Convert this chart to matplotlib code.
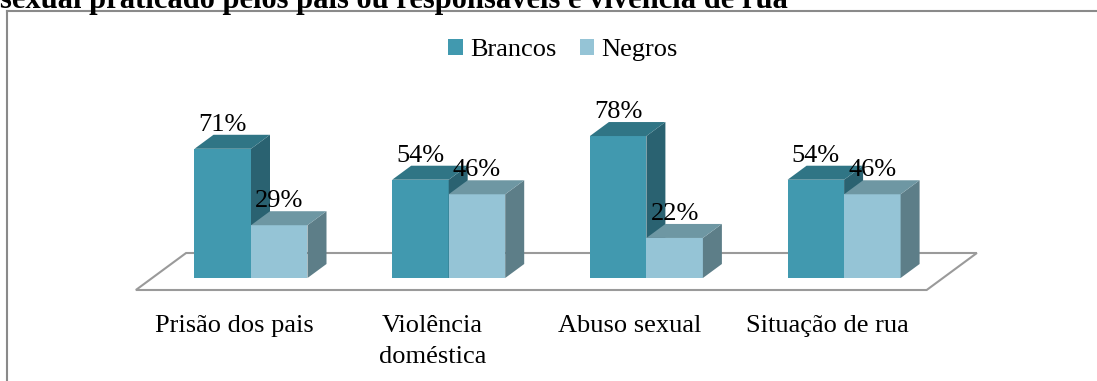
import matplotlib.pyplot as plt
from matplotlib.patches import Polygon, Patch
from matplotlib.lines import Line2D

categorias = ['Prisão dos pais', 'Violência\ndoméstica', 'Abuso sexual', 'Situação de rua']
series = ['Brancos', 'Negros']
brancos = [71, 54, 78, 54]
negros = [29, 46, 22, 46]
titulo = 'sexual praticado pelos pais ou responsáveis e vivência de rua'

# front, side, top colours per series
cores = {
    'Brancos': ('#4199AF', '#2A6271', '#307585'),
    'Negros': ('#95C4D6', '#5D7E88', '#6E97A3'),
}

plt.rcParams['font.family'] = ['Liberation Serif', 'DejaVu Serif']
fs = 19

W, H = 1097, 381
fig = plt.figure(figsize=(W / 100, H / 100), dpi=100)
ax = fig.add_axes([0, 0, 1, 1])

# pixel scale of the fake 3d projection
pitch = 197.7   # px per category
ppu = 1.82      # px per percent
x0 = 251
base = 278
ax.set_xlim(-x0 / pitch, (W - x0) / pitch)
ax.set_ylim(-(H - base) / ppu, base / ppu)
ax.axis('off')

slope = 1.357
w = 56.5 / pitch


def shift(d):
    return d * slope / pitch, d / ppu


# floor
fx0, fx1 = -0.5, len(categorias) - 0.5
dxf, dyf = shift(-12)
dxb, dyb = shift(25)
ax.add_patch(Polygon([(fx0 + dxf, dyf), (fx1 + dxf, dyf), (fx1 + dxb, dyb), (fx0 + dxb, dyb)],
                     closed=True, fc='white', ec='#9a9a9a', lw=1.5))


def bar3d(left, value, front, side, top):
    dx, dy = shift(14)
    right = left + w
    ax.add_patch(Polygon([(left, 0), (right, 0), (right, value), (left, value)],
                         closed=True, fc=front, ec='none'))
    ax.add_patch(Polygon([(right, 0), (right + dx, dy), (right + dx, value + dy), (right, value)],
                         closed=True, fc=side, ec='none'))
    ax.add_patch(Polygon([(left, value), (right, value), (right + dx, value + dy), (left + dx, value + dy)],
                         closed=True, fc=top, ec='none'))
    ax.text(left + w / 2, value + dy + 2.2, f'{value}%', ha='center', va='baseline', fontsize=fs)


for i, cat in enumerate(categorias):
    bar3d(i - w, brancos[i], *cores['Brancos'])
    bar3d(i, negros[i], *cores['Negros'])
    cx = i + shift(-12)[0]
    for k, linha in enumerate(cat.split('\n')):
        ax.text(cx, (base - 332 - 31 * k) / ppu, linha, ha='center', va='baseline', fontsize=fs)

handles = [Patch(fc=cores[s][0], ec='none') for s in series]
ax.legend(handles, series, loc='center', bbox_to_anchor=(563 / W, 1 - 50 / H),
          bbox_transform=fig.transFigure, ncol=2, frameon=False, fontsize=fs,
          handlelength=0.55, handleheight=0.55, handletextpad=0.27,
          columnspacing=0.9, borderpad=0, borderaxespad=0)

# chart frame (cut at right and bottom)
fig.add_artist(Line2D([7 / W, 7 / W], [0, 1 - 11 / H], color='#8a8a8a', lw=1.5))
fig.add_artist(Line2D([7 / W, 1], [1 - 11 / H, 1 - 11 / H], color='#8a8a8a', lw=1.5))

# title is cut at the top edge, as in the source page
fig.text(0, 1 - 8 / H, titulo, ha='left', va='baseline', fontsize=22, fontweight='bold')

fig.savefig('out.png', dpi=100)
